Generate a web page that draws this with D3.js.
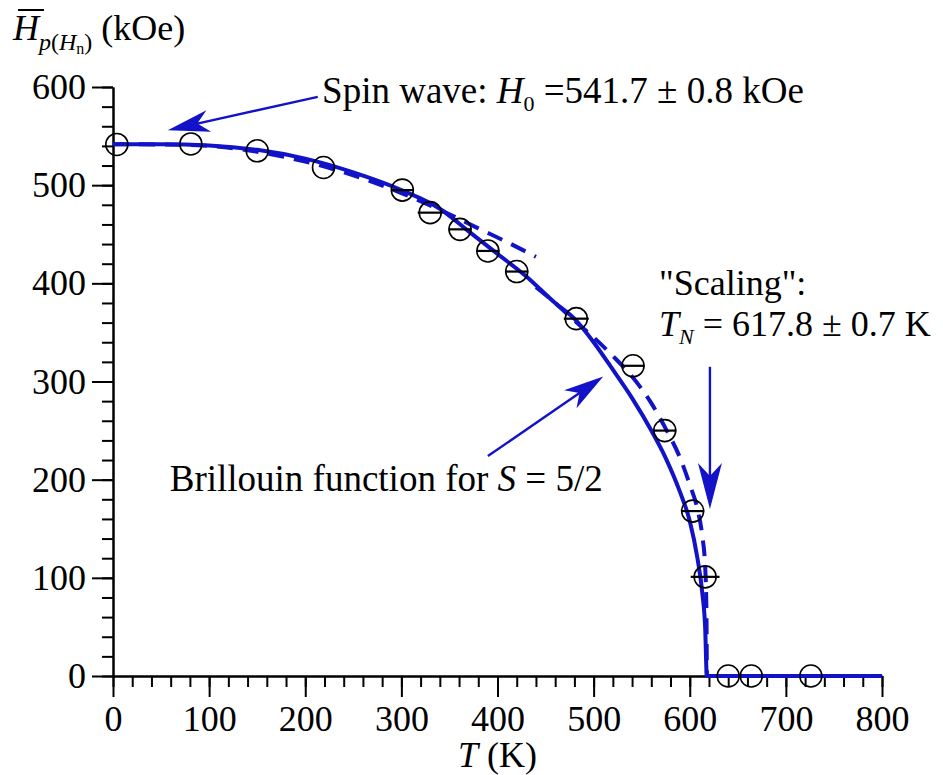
<!DOCTYPE html>
<html>
<head>
<meta charset="utf-8">
<script src="https://cdn.jsdelivr.net/npm/d3@7"></script>
<style>
  body { margin: 0; background: #fff; }
  text { font-family: "Liberation Serif", "DejaVu Serif", "Noto Serif", "Times New Roman", serif; }
</style>
</head>
<body>
<div id="chart"></div>
<script>
let width = 943, height = 775
let serif = '"Liberation Serif", "DejaVu Serif", "Noto Serif", "Times New Roman", serif'

// DATA
let tempK    = [4, 81, 150, 219, 301, 330, 361, 390, 420, 482, 541, 574, 603, 616, 640, 664, 726]
let fieldKOe = [541.5, 542, 535, 518, 495, 472, 455, 433, 412, 364, 316, 250, 168, 101, 0, 0, 0]
let errT     = [0, 0, 0, 0, 11, 13, 12, 12, 12, 13, 12, 12, 12, 15, 0, 0, 0]

let brillouinT = [0, 50, 100, 150, 200, 250, 300, 340, 370, 400, 430, 460, 480, 500, 520, 540, 560, 575, 590, 600, 608, 613, 616, 617.8, 640, 700, 800]
let brillouinH = [541.7, 541.7, 540.5, 536, 527, 513, 495, 476, 453, 430, 407, 380, 364, 340, 312, 283, 250, 222, 187, 158, 120, 85, 50, 0, 0, 0, 0]

let spinWaveT = [0, 50, 100, 150, 200, 250, 300, 340, 380, 410, 440]
let spinWaveH = [541.7, 541.5, 540, 534, 524, 510, 492, 475, 456, 442, 427]

let scalingT = [440, 460, 480, 500, 520, 540, 560, 575, 590, 600, 608, 613, 616, 617.3, 617.8]
let scalingH = [396, 380, 362, 345, 326, 305, 278, 252, 222, 195, 170, 143, 112, 70, 0]

let xTicks = [0, 100, 200, 300, 400, 500, 600, 700, 800]
let yTicks = [0, 100, 200, 300, 400, 500, 600]

let blue = '#1212c8'

// SCALES
let x = d3.scaleLinear().domain([0, 800]).range([113, 882])
let y = d3.scaleLinear().domain([0, 600]).range([676, 87])

let svg = d3.select('#chart')
  .append('svg')
  .attr('width', width)
  .attr('height', height)

// AXES
function styleAxis (g) {
  g.attr('font-family', null)
  g.select('.domain').attr('stroke', '#000').attr('stroke-width', 2)
  g.selectAll('.tick line').attr('stroke', '#000').attr('stroke-width', 2)
  g.selectAll('.tick text')
    .attr('fill', '#000')
    .style('font-size', '36px')
    .style('font-family', serif)
}

let xMinor = svg.append('g')
  .attr('transform', 'translate(0,' + y(0) + ')')
  .call(d3.axisBottom(x).tickValues(d3.range(0, 801, 20)).tickSize(11).tickSizeOuter(0).tickFormat(''))
  .call(styleAxis)

let xAxis = svg.append('g')
  .attr('transform', 'translate(0,' + y(0) + ')')
  .call(d3.axisBottom(x).tickValues(xTicks).tickSize(21).tickSizeOuter(0).tickPadding(8))
  .call(styleAxis)

let yMinor = svg.append('g')
  .attr('transform', 'translate(' + x(0) + ',0)')
  .call(d3.axisLeft(y).tickValues(d3.range(0, 601, 20)).tickSize(11).tickSizeOuter(0).tickFormat(''))
  .call(styleAxis)

let yAxis = svg.append('g')
  .attr('transform', 'translate(' + x(0) + ',0)')
  .call(d3.axisLeft(y).tickValues(yTicks).tickSize(21).tickSizeOuter(0).tickPadding(6))
  .call(styleAxis)

// CURVES
function curvePath (ts, hs) {
  let pts = ts.map((t, i) => [t, hs[i]])
  return d3.line()
    .x(d => x(d[0]))
    .y(d => y(d[1]))
    .curve(d3.curveMonotoneX)(pts)
}

svg.append('path')
  .attr('d', curvePath(brillouinT, brillouinH))
  .attr('fill', 'none')
  .attr('stroke', blue)
  .attr('stroke-width', 4)

svg.append('path')
  .attr('d', curvePath(spinWaveT, spinWaveH))
  .attr('fill', 'none')
  .attr('stroke', blue)
  .attr('stroke-width', 4)
  .attr('stroke-dasharray', '16,10')

svg.append('path')
  .attr('d', curvePath(scalingT, scalingH))
  .attr('fill', 'none')
  .attr('stroke', blue)
  .attr('stroke-width', 4)
  .attr('stroke-dasharray', '16,10')

// DATA POINTS
let points = tempK.map((t, i) => ({ t: t, h: fieldKOe[i], e: errT[i] }))

let marks = svg.selectAll('.point')
  .data(points)
  .enter().append('g')
  .attr('class', 'point')

marks.filter(d => d.e > 0)
  .append('line')
  .attr('x1', d => x(d.t - d.e))
  .attr('x2', d => x(d.t + d.e))
  .attr('y1', d => y(d.h))
  .attr('y2', d => y(d.h))
  .attr('stroke', '#000')
  .attr('stroke-width', 2.2)

marks.append('circle')
  .attr('cx', d => x(d.t))
  .attr('cy', d => y(d.h))
  .attr('r', 11)
  .attr('fill', 'none')
  .attr('stroke', '#000')
  .attr('stroke-width', 1.6)

// ANNOTATION ARROWS
function arrow (t1, h1, t2, h2, len, half) {
  let x1 = x(t1), y1 = y(h1), x2 = x(t2), y2 = y(h2)
  let a = Math.atan2(y2 - y1, x2 - x1)
  let ux = Math.cos(a), uy = Math.sin(a)
  let px = -uy, py = ux
  svg.append('line')
    .attr('x1', x1).attr('y1', y1)
    .attr('x2', x2 - ux * len * 0.5).attr('y2', y2 - uy * len * 0.5)
    .attr('stroke', blue)
    .attr('stroke-width', 2.4)
  let head = [
    [x2, y2],
    [x2 - ux * len + px * half, y2 - uy * len + py * half],
    [x2 - ux * len * 0.72, y2 - uy * len * 0.72],
    [x2 - ux * len - px * half, y2 - uy * len - py * half]
  ]
  svg.append('path')
    .attr('d', 'M' + head.map(p => p.join(',')).join('L') + 'Z')
    .attr('fill', blue)
}

arrow(213, 590, 57, 556, 42, 11)
arrow(390, 224, 510, 305, 40, 11)
arrow(621, 315, 621, 170, 46, 12)

// ANNOTATION TEXT
let spin = svg.append('text')
  .attr('x', x(217.5))
  .attr('y', y(584))
  .style('font-size', '37px')
spin.append('tspan').text('Spin wave: ')
spin.append('tspan').style('font-style', 'italic').text('H')
spin.append('tspan').attr('dy', 8).style('font-size', '22px').text('0')
spin.append('tspan').attr('dy', -8).text(' =541.7 \u00b1 0.8 kOe')

let bril = svg.append('text')
  .attr('x', x(59))
  .attr('y', y(188))
  .style('font-size', '37px')
bril.append('tspan').text('Brillouin function for ')
bril.append('tspan').style('font-style', 'italic').text('S')
bril.append('tspan').text(' = 5/2')

svg.append('text')
  .attr('x', x(568))
  .attr('y', y(388))
  .style('font-size', '36px')
  .text('"Scaling":')

let tn = svg.append('text')
  .attr('x', x(568))
  .attr('y', y(346))
  .style('font-size', '36px')
tn.append('tspan').style('font-style', 'italic').text('T')
tn.append('tspan').attr('dy', 8).style('font-size', '22px').style('font-style', 'italic').text('N')
tn.append('tspan').attr('dy', -8).text(' = 617.8 \u00b1 0.7 K')

// AXIS TITLES
let yTitle = svg.append('text')
  .attr('x', 13)
  .attr('y', 40)
  .style('font-size', '36px')
yTitle.append('tspan').style('font-style', 'italic').text('H')
yTitle.append('tspan').attr('dy', 10).style('font-size', '24px').style('font-style', 'italic').text('p')
yTitle.append('tspan').style('font-size', '24px').text('(')
yTitle.append('tspan').style('font-size', '24px').style('font-style', 'italic').text('H')
yTitle.append('tspan').attr('dy', 4).style('font-size', '16px').text('n')
yTitle.append('tspan').attr('dy', -4).style('font-size', '24px').text(')')
yTitle.append('tspan').attr('dy', -10).text(' (kOe)')

// overline over H
svg.append('line')
  .attr('x1', 18).attr('x2', 44)
  .attr('y1', 10).attr('y2', 10)
  .attr('stroke', '#000')
  .attr('stroke-width', 2)

let xTitle = svg.append('text')
  .attr('x', (x(0) + x(800)) / 2)
  .attr('y', 767)
  .attr('text-anchor', 'middle')
  .style('font-size', '36px')
xTitle.append('tspan').style('font-style', 'italic').text('T')
xTitle.append('tspan').text(' (K)')
</script>
</body>
</html>
